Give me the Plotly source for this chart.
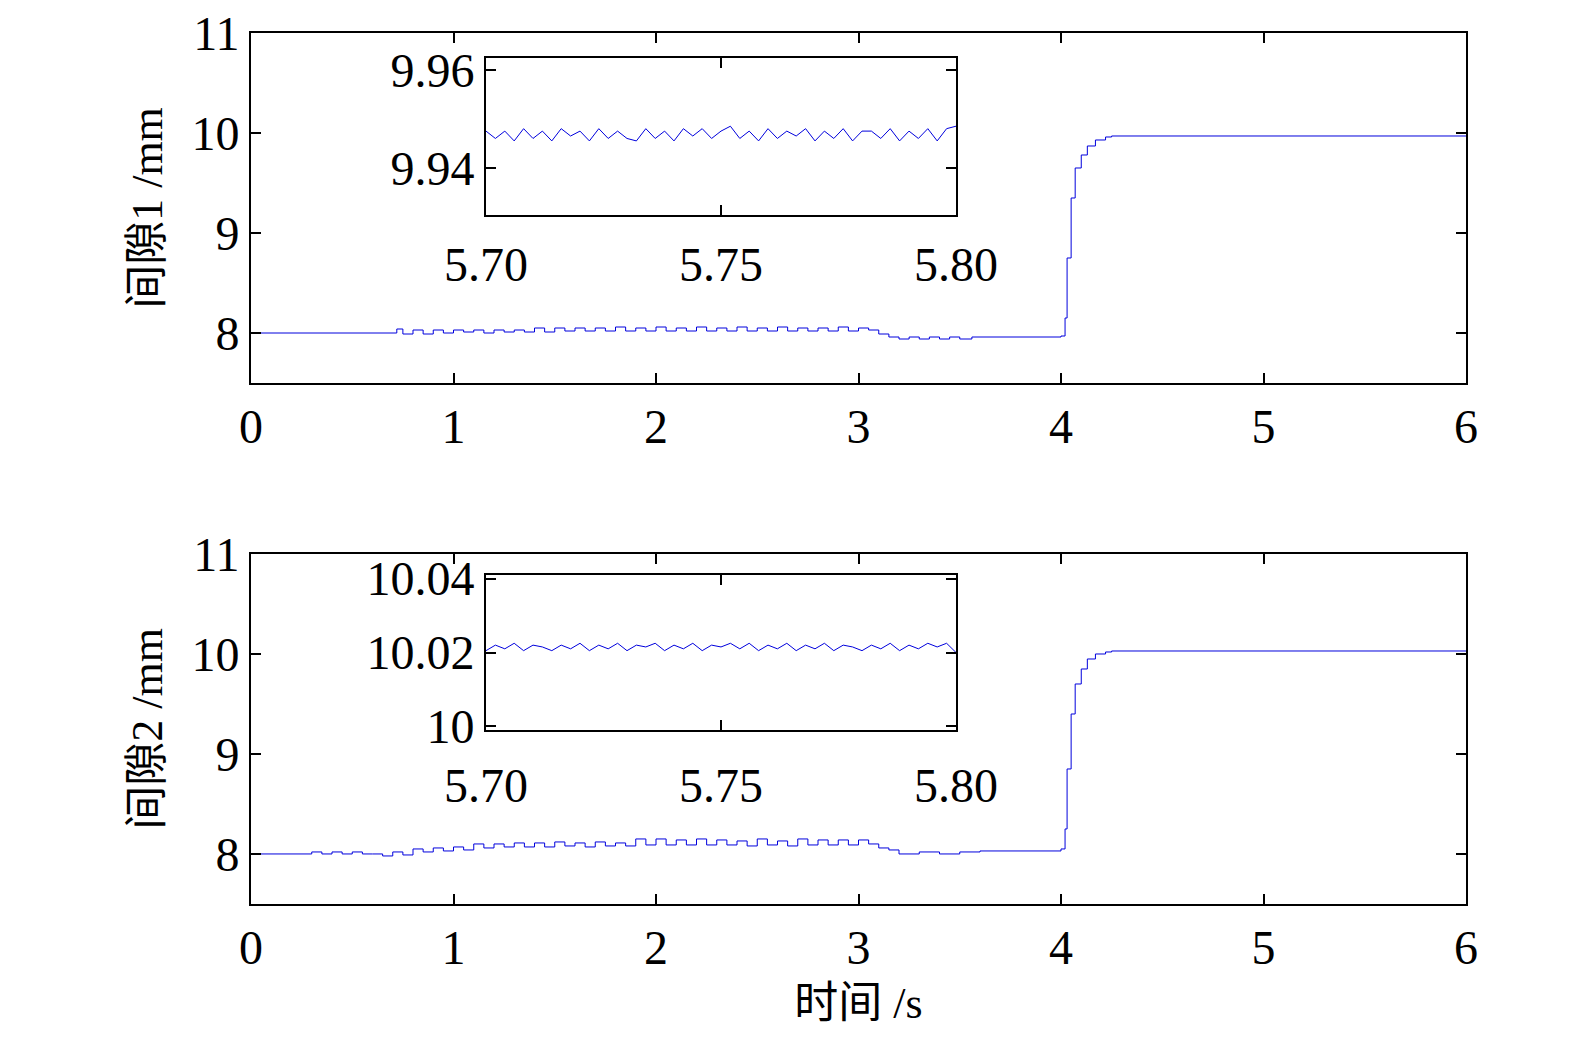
import plotly.graph_objects as go

# ---- top main series (间隙1) ----
t1 = [0, 0.72, 0.75, 0.8, 0.85, 0.9, 0.95, 1.0, 1.05, 1.1, 1.15, 1.2, 1.25, 1.3, 1.35, 1.4, 1.45, 1.5,
      1.55, 1.6, 1.65, 1.7, 1.75, 1.8, 1.85, 1.9, 1.95, 2.0, 2.05, 2.1, 2.15, 2.2, 2.25, 2.3, 2.35, 2.4,
      2.45, 2.5, 2.55, 2.6, 2.65, 2.7, 2.75, 2.8, 2.85, 2.9, 2.95, 3.0, 3.05, 3.1, 3.15, 3.2, 3.25, 3.3,
      3.35, 3.4, 3.45, 3.5, 3.56, 4.0, 4.02, 4.03, 4.05, 4.07, 4.1, 4.13, 4.17, 4.22, 4.25, 6.0]
g1 = [8.0, 8.04, 7.99, 8.03, 7.99, 8.03, 8.0, 8.03, 8.01, 8.03, 8.0, 8.03, 8.01, 8.03, 8.01, 8.05, 8.01, 8.05,
      8.02, 8.05, 8.02, 8.05, 8.02, 8.06, 8.02, 8.05, 8.02, 8.06, 8.02, 8.05, 8.02, 8.06, 8.02, 8.05, 8.02, 8.06,
      8.02, 8.05, 8.02, 8.06, 8.02, 8.05, 8.02, 8.05, 8.02, 8.06, 8.02, 8.05, 8.03, 7.99, 7.96, 7.94, 7.96, 7.94,
      7.96, 7.94, 7.96, 7.94, 7.96, 7.97, 8.15, 8.75, 9.35, 9.65, 9.78, 9.87, 9.93, 9.96, 9.97, 9.97]

# ---- bottom main series (间隙2) ----
t2 = [0, 0.3, 0.35, 0.4, 0.45, 0.5, 0.55, 0.6, 0.65, 0.7, 0.75, 0.8, 0.85, 0.9, 0.95, 1.0, 1.05, 1.1,
      1.15, 1.2, 1.25, 1.3, 1.35, 1.4, 1.45, 1.5, 1.55, 1.6, 1.65, 1.7, 1.75, 1.8, 1.85, 1.9, 1.95, 2.0,
      2.05, 2.1, 2.15, 2.2, 2.25, 2.3, 2.35, 2.4, 2.45, 2.5, 2.55, 2.6, 2.65, 2.7, 2.75, 2.8, 2.85, 2.9,
      2.95, 3.0, 3.05, 3.1, 3.15, 3.2, 3.3, 3.4, 3.5, 3.6, 4.0, 4.02, 4.03, 4.05, 4.07, 4.1, 4.13, 4.17, 4.22, 4.25, 6.0]
g2 = [8.0, 8.02, 8.0, 8.02, 8.0, 8.02, 8.0, 8.0, 7.98, 8.02, 7.99, 8.05, 8.02, 8.06, 8.03, 8.07, 8.04, 8.1,
      8.06, 8.1, 8.07, 8.11, 8.07, 8.11, 8.07, 8.12, 8.08, 8.11, 8.07, 8.12, 8.08, 8.11, 8.08, 8.15, 8.09, 8.15,
      8.09, 8.14, 8.09, 8.15, 8.09, 8.14, 8.09, 8.13, 8.08, 8.15, 8.09, 8.13, 8.08, 8.15, 8.09, 8.14, 8.09, 8.14,
      8.09, 8.14, 8.1, 8.06, 8.04, 8.0, 8.02, 8.0, 8.02, 8.03, 8.05, 8.25, 8.85, 9.4, 9.7, 9.85, 9.95, 10.0, 10.02, 10.03, 10.03]

# ---- insets (5.70–5.80 s) ----
ti = [5.700, 5.702, 5.704, 5.706, 5.708, 5.710, 5.712, 5.714, 5.716, 5.718, 5.720, 5.722, 5.724, 5.726,
      5.728, 5.730, 5.732, 5.734, 5.736, 5.738, 5.740, 5.742, 5.744, 5.746, 5.748, 5.750, 5.752, 5.754,
      5.756, 5.758, 5.760, 5.762, 5.764, 5.766, 5.768, 5.770, 5.772, 5.774, 5.776, 5.778, 5.780, 5.782,
      5.784, 5.786, 5.788, 5.790, 5.792, 5.794, 5.796, 5.798, 5.800]
i1 = [9.9475, 9.946, 9.9475, 9.9455, 9.948, 9.946, 9.9475, 9.9455, 9.948, 9.9465, 9.9475, 9.9455, 9.948, 9.946,
      9.9475, 9.946, 9.9455, 9.948, 9.946, 9.9475, 9.9455, 9.948, 9.9465, 9.948, 9.946, 9.9475, 9.9485, 9.946,
      9.9475, 9.9455, 9.948, 9.946, 9.9475, 9.9465, 9.948, 9.9455, 9.9475, 9.946, 9.948, 9.9455, 9.9475, 9.9475,
      9.946, 9.948, 9.9455, 9.9475, 9.946, 9.948, 9.9455, 9.948, 9.9485]
i2 = [10.0205, 10.022, 10.021, 10.0225, 10.0205, 10.022, 10.0215, 10.0205, 10.022, 10.021, 10.0225, 10.0205, 10.022, 10.021,
      10.0225, 10.0205, 10.022, 10.0215, 10.0225, 10.0205, 10.022, 10.021, 10.0225, 10.0205, 10.022, 10.0215, 10.0225, 10.021,
      10.0225, 10.0205, 10.022, 10.021, 10.0225, 10.0205, 10.022, 10.021, 10.0225, 10.0205, 10.022, 10.0215, 10.0205, 10.022,
      10.021, 10.0225, 10.0205, 10.022, 10.021, 10.0225, 10.0215, 10.0225, 10.02]

main_ticks = [0, 1, 2, 3, 4, 5, 6]
inset_ticks = [5.70, 5.75, 5.80]

BLUE = "#0000dd"
FONT = "Liberation Serif, DejaVu Serif, Noto Sans CJK SC"
fig = go.Figure()
fig.add_trace(go.Scatter(x=t1, y=g1, mode="lines", line=dict(color=BLUE, width=1, shape="hv"), xaxis="x", yaxis="y"))
fig.add_trace(go.Scatter(x=t2, y=g2, mode="lines", line=dict(color=BLUE, width=1, shape="hv"), xaxis="x2", yaxis="y2"))
fig.add_trace(go.Scatter(x=ti, y=i1, mode="lines", line=dict(color=BLUE, width=1), xaxis="x3", yaxis="y3"))
fig.add_trace(go.Scatter(x=ti, y=i2, mode="lines", line=dict(color=BLUE, width=1), xaxis="x4", yaxis="y4"))

ax = dict(showline=True, linecolor="black", linewidth=2, mirror="ticks", ticks="inside", ticklen=10,
          tickwidth=2, tickcolor="black", showgrid=False, zeroline=False, automargin=False,
          ticklabeloverflow="allow", tickfont=dict(size=48, color="black"))
xd = [243/1575, 1458/1575]
fig.update_layout(
    width=1575, height=1049, margin=dict(l=0, r=0, t=0, b=0, autoexpand=False), showlegend=False,
    plot_bgcolor="white", paper_bgcolor="white", font=dict(family=FONT, color="black"),
    xaxis=dict(ax, domain=xd, anchor="y", range=[0, 6], tickvals=main_ticks),
    yaxis=dict(ax, domain=[0.6425, 0.9762], anchor="x", range=[7.5, 11], tickvals=[8, 9, 10, 11],
               title=dict(text="间隙1 /mm", font=dict(size=44))),
    xaxis2=dict(ax, domain=xd, anchor="y2", range=[0, 6], tickvals=main_ticks,
                title=dict(text="时间 /s", font=dict(size=44))),
    yaxis2=dict(ax, domain=[0.1459, 0.4795], anchor="x2", range=[7.5, 11], tickvals=[8, 9, 10, 11],
                title=dict(text="间隙2 /mm", font=dict(size=44))),
    xaxis3=dict(ax, domain=[478/1575, 948/1575], anchor="y3", range=[5.70, 5.80], tickvals=inset_ticks,
                ticktext=["5.70", "5.75", "5.80"], ticklabelstandoff=6),
    yaxis3=dict(ax, domain=[0.8027, 0.9523], anchor="x3", range=[9.9304, 9.9624], tickvals=[9.94, 9.96],
                ticktext=["9.94", "9.96"]),
    xaxis4=dict(ax, domain=[478/1575, 948/1575], anchor="y4", range=[5.70, 5.80], tickvals=inset_ticks,
                ticktext=["5.70", "5.75", "5.80"], ticklabelstandoff=12),
    yaxis4=dict(ax, domain=[0.3117, 0.4595], anchor="x4", range=[9.999, 10.041], tickvals=[10, 10.02, 10.04],
                ticktext=["10", "10.02", "10.04"]),
)
fig.write_html("out.html")
